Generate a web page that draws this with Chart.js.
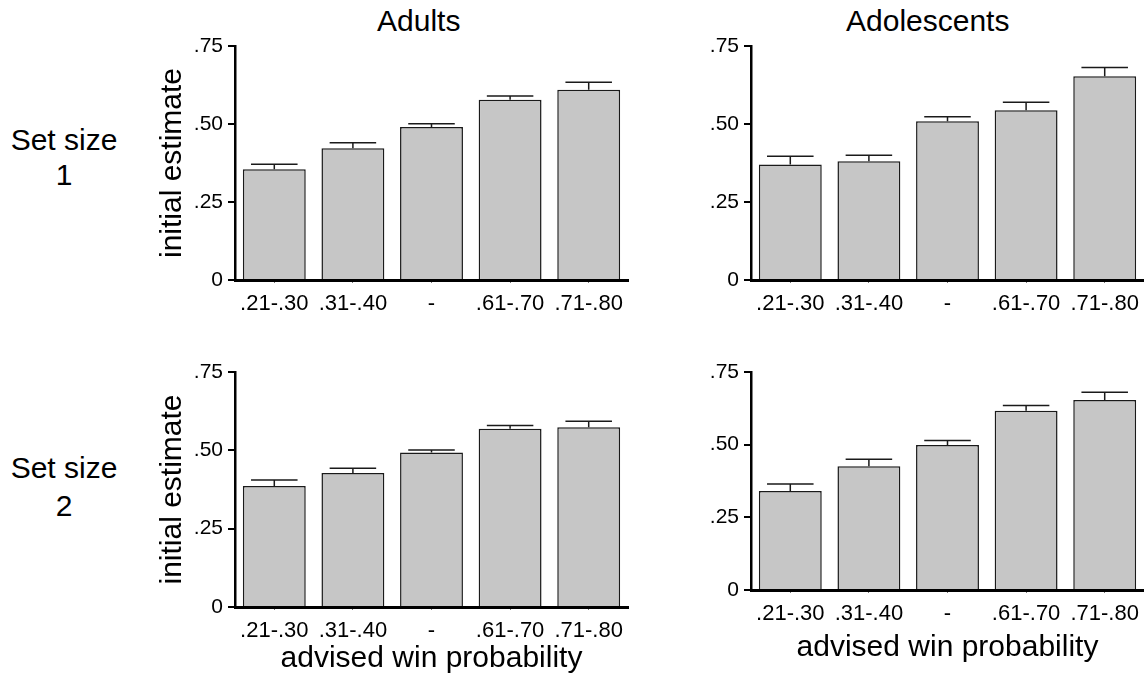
<!DOCTYPE html>
<html>
<head>
<meta charset="utf-8">
<script src="https://cdn.jsdelivr.net/npm/chart.js@4"></script>
<style>
html, body { margin: 0; padding: 0; overflow: hidden; background: #fff; }
body { width: 1144px; height: 682px; position: relative; font-family: "Liberation Sans", Arial, Helvetica, sans-serif; color: #000; }
canvas { position: absolute; }
.lbl { position: absolute; font-size: 30px; line-height: 30px; white-space: nowrap; }
.row { width: 128px; left: 0; text-align: center; }
</style>
</head>
<body>
<div class="lbl" style="left:377px; top:6px;">Adults</div>
<div class="lbl" style="left:846px; top:6px;">Adolescents</div>
<div class="lbl row" style="top:125px;">Set size</div>
<div class="lbl row" style="top:160px;">1</div>
<div class="lbl row" style="top:453px;">Set size</div>
<div class="lbl row" style="top:491px;">2</div>

<canvas id="c-tl"></canvas>
<canvas id="c-tr"></canvas>
<canvas id="c-bl"></canvas>
<canvas id="c-br"></canvas>

<script>
// data (bar means and SEM for the error bars)
const categories = ['.21-.30', '.31-.40', '-', '.61-.70', '.71-.80'];
const yTickLabels = ['0', '.25', '.50', '.75'];

const adultsSet1 = [0.355, 0.422, 0.490, 0.578, 0.610];
const adultsSet1Err = [0.016, 0.018, 0.011, 0.012, 0.024];
const adolSet1 = [0.370, 0.381, 0.509, 0.544, 0.653];
const adolSet1Err = [0.027, 0.019, 0.014, 0.026, 0.028];
const adultsSet2 = [0.386, 0.428, 0.493, 0.569, 0.574];
const adultsSet2Err = [0.019, 0.015, 0.008, 0.010, 0.019];
const adolSet2 = [0.341, 0.426, 0.499, 0.617, 0.654];
const adolSet2Err = [0.024, 0.024, 0.015, 0.018, 0.026];

Chart.defaults.font.family = '"Liberation Sans", Arial, Helvetica, sans-serif';
Chart.defaults.color = '#000';

// draws the upward error bar with a cap above each bar
function errorBars(errs) {
  return {
    id: 'errorBars',
    afterDatasetsDraw(chart) {
      const ctx = chart.ctx;
      const y = chart.scales.y;
      const vals = chart.data.datasets[0].data;
      const meta = chart.getDatasetMeta(0);
      ctx.save();
      ctx.strokeStyle = '#1a1a1a';
      ctx.lineWidth = 1.5;
      meta.data.forEach((bar, i) => {
        const top = y.getPixelForValue(vals[i] + errs[i]);
        const half = bar.width * 0.37;
        ctx.beginPath();
        ctx.moveTo(bar.x, bar.y);
        ctx.lineTo(bar.x, top);
        ctx.moveTo(bar.x - half, top);
        ctx.lineTo(bar.x + half, top);
        ctx.stroke();
      });
      ctx.restore();
    }
  };
}

function makePanel(id, box, area, values, errs, opts) {
  const canvas = document.getElementById(id);
  canvas.width = box.w;
  canvas.height = box.h;
  canvas.style.left = box.x + 'px';
  canvas.style.top = box.y + 'px';
  canvas.style.width = box.w + 'px';
  canvas.style.height = box.h + 'px';

  return new Chart(canvas, {
    type: 'bar',
    data: {
      labels: categories,
      datasets: [{
        data: values,
        backgroundColor: '#c6c6c6',
        borderColor: '#1a1a1a',
        borderWidth: 1.5,
        borderSkipped: 'bottom',
        barPercentage: 0.8,
        categoryPercentage: 1
      }]
    },
    options: {
      responsive: false,
      animation: false,
      events: [],
      layout: { padding: { left: 0, top: area.t - box.y, right: box.x + box.w - area.r, bottom: 0 } },
      plugins: { legend: { display: false }, tooltip: { enabled: false } },
      scales: {
        x: {
          grid: { drawOnChartArea: false, offset: false, tickLength: 3, color: '#777', lineWidth: 1 },
          border: { display: true, color: '#000', width: 3 },
          ticks: { color: '#000', padding: 8, font: { size: 22 }, maxRotation: 0, autoSkip: false },
          title: {
            display: !!opts.xTitle, text: opts.xTitle || '', color: '#000',
            font: { size: 30 }, padding: { top: 0, bottom: opts.xTitlePad || 0 }
          },
          afterFit: s => { s.height = box.y + box.h - area.b; }
        },
        y: {
          min: 0, max: 0.75,
          ticks: { stepSize: 0.25, color: '#000', padding: 5, font: { size: 21 },
                   callback: (v, i) => yTickLabels[i] },
          grid: { drawOnChartArea: false, tickLength: 7, color: '#000', lineWidth: 2 },
          border: { display: true, color: '#000', width: 2.5 },
          title: {
            display: !!opts.yTitle, text: opts.yTitle || '', color: '#000',
            font: { size: 30 }, padding: { top: 5, bottom: 0 }
          },
          afterFit: s => { s.width = area.l - box.x; }
        }
      }
    },
    plugins: [errorBars(errs)]
  });
}

makePanel('c-tl', { x: 150, y: 20, w: 482, h: 312 }, { l: 235, t: 46, r: 628, b: 280 },
  adultsSet1, adultsSet1Err, { yTitle: 'initial estimate' });
makePanel('c-tr', { x: 700, y: 20, w: 448, h: 312 }, { l: 751, t: 46, r: 1144, b: 280 },
  adolSet1, adolSet1Err, {});
makePanel('c-bl', { x: 150, y: 346, w: 482, h: 336 }, { l: 235, t: 372, r: 628, b: 607 },
  adultsSet2, adultsSet2Err, { yTitle: 'initial estimate', xTitle: 'advised win probability', xTitlePad: 5 });
makePanel('c-br', { x: 700, y: 346, w: 448, h: 336 }, { l: 751, t: 372, r: 1144, b: 590 },
  adolSet2, adolSet2Err, { xTitle: 'advised win probability', xTitlePad: 16 });
</script>
</body>
</html>
